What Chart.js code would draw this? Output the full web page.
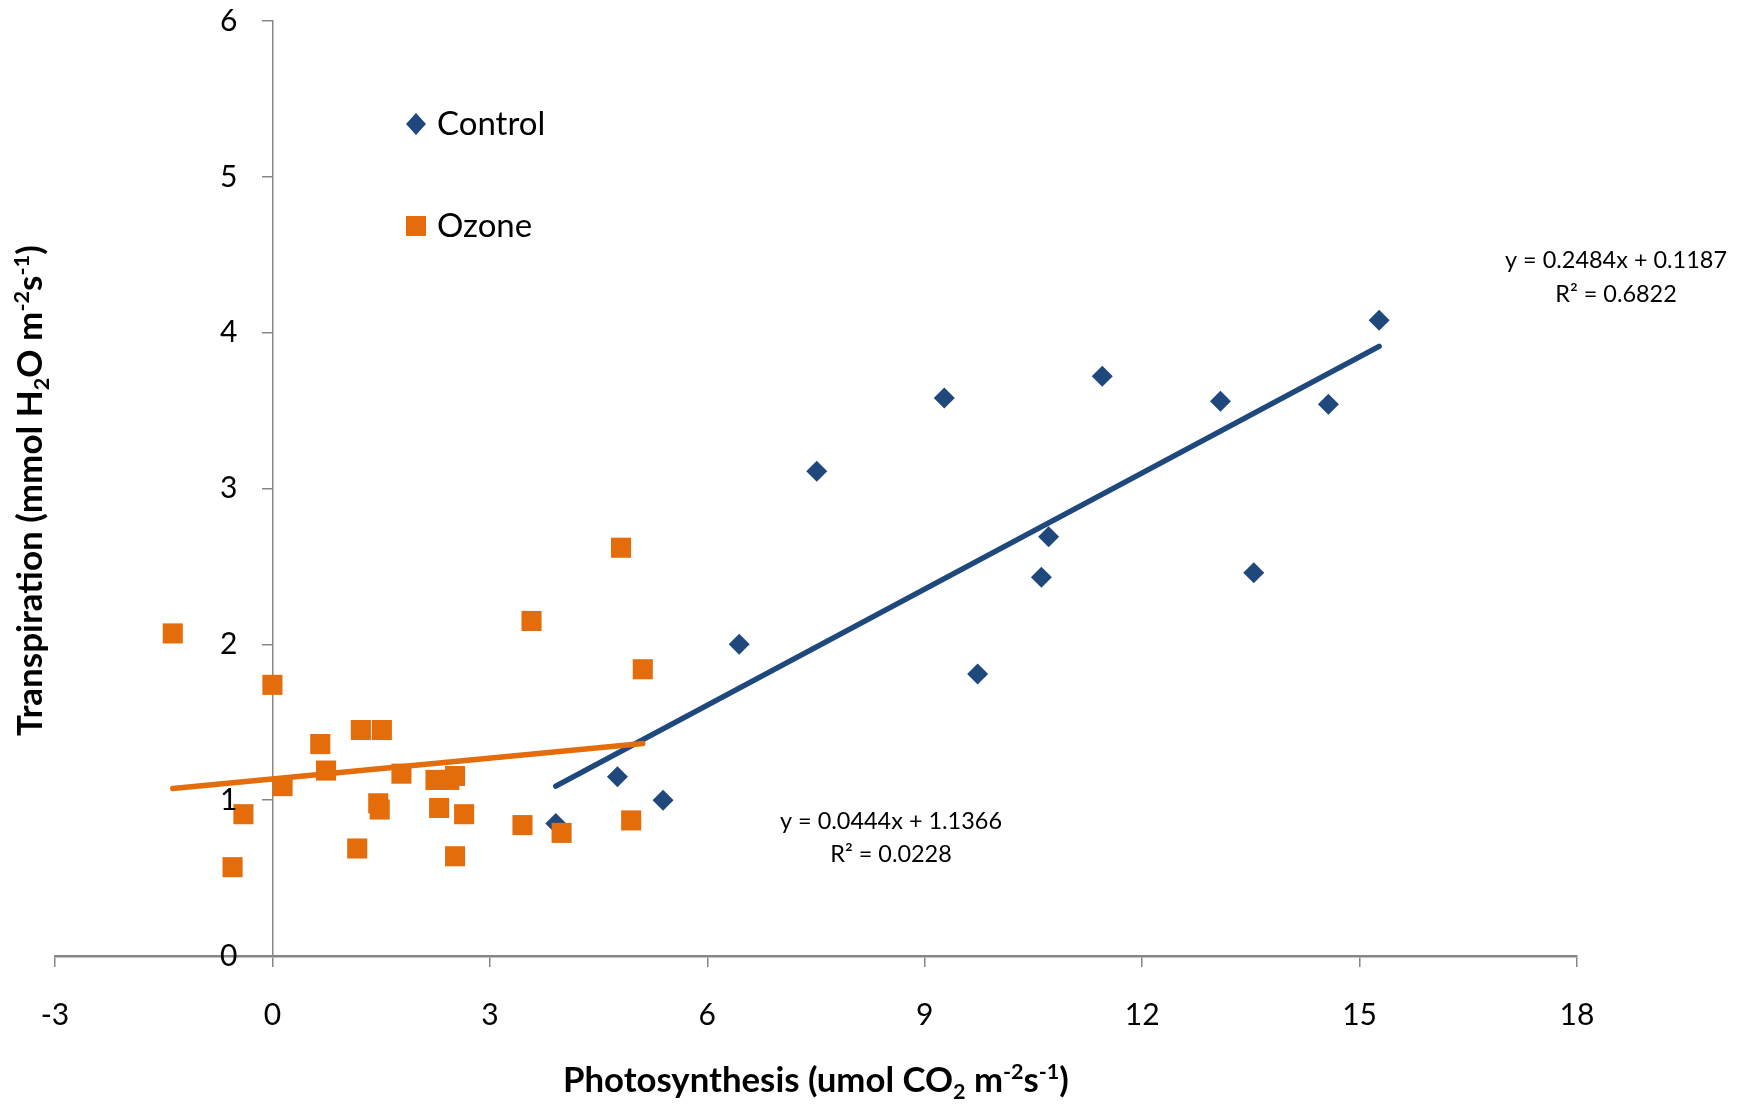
<!DOCTYPE html>
<html lang="en">
<head>
<meta charset="UTF-8">
<title>Transpiration vs Photosynthesis</title>
<script src="https://cdn.jsdelivr.net/npm/chart.js@4.4.1/dist/chart.umd.min.js"></script>
<style>
  html, body { margin: 0; padding: 0; background: #fff; }
</style>
</head>
<body>
<canvas id="scatter" width="1748" height="1110"></canvas>
<script>
// data
const seriesNames = ['Control', 'Ozone'];
const controlX = [3.91, 4.76, 5.39, 6.44, 7.51, 9.27, 9.73, 10.61, 10.71, 11.45, 13.08, 13.54, 14.57, 15.27];
const controlY = [0.85, 1.15, 1.00, 2.00, 3.11, 3.58, 1.81, 2.43, 2.69, 3.72, 3.56, 2.46, 3.54, 4.08];
const ozoneX = [-1.375, 0.0, -0.55, -0.40, 0.14, 0.66, 0.74, 1.22, 1.51, 1.17, 1.46, 1.48, 1.78,
                2.25, 2.44, 2.52, 2.30, 2.645, 2.52, 3.45, 3.575, 3.99, 4.81, 4.95, 5.11];
const ozoneY = [2.07, 1.74, 0.57, 0.91, 1.09, 1.36, 1.19, 1.45, 1.45, 0.69, 0.98, 0.94, 1.17,
                1.13, 1.13, 1.155, 0.95, 0.91, 0.64, 0.84, 2.15, 0.79, 2.62, 0.87, 1.84];
// linear trendlines as printed on the chart: [slope, intercept]
const controlFit = [0.2484, 0.1187];
const ozoneFit = [0.0444, 1.1366];
const controlFitText = ['y = 0.2484x + 0.1187', 'R² = 0.6822'];
const ozoneFitText = ['y = 0.0444x + 1.1366', 'R² = 0.0228'];
const xTicks = [-3, 0, 3, 6, 9, 12, 15, 18];
const yTicks = [0, 1, 2, 3, 4, 5, 6];
// axis titles split into [text, 0 normal | -1 subscript | 1 superscript]
const xTitle = [['Photosynthesis (umol CO', 0], ['2', -1], [' m', 0], ['-2', 1], ['s', 0], ['-1', 1], [')', 0]];
const yTitle = [['Transpiration (mmol H', 0], ['2', -1], ['O m', 0], ['-2', 1], ['s', 0], ['-1', 1], [')', 0]];

const BLUE = '#1F497D';
const ORANGE = '#E46C0A';
const AXIS = '#868686';
const FONT = 'Lato';

function pts(xs, ys) {
    return xs.map((x, i) => ({ x: x, y: ys[i] }));
}

function trend(xs, fit) {
    const lo = Math.min(...xs), hi = Math.max(...xs);
    return [{ x: lo, y: fit[0] * lo + fit[1] }, { x: hi, y: fit[0] * hi + fit[1] }];
}

// text with sub/superscripts, scaled so it spans the given width
function drawRich(ctx, parts, cx, baseY, width, rot) {
    const small = 0.62;
    const measure = size => parts.reduce((w, p) => {
        ctx.font = 'bold ' + (p[1] ? size * small : size) + 'px ' + FONT;
        return w + ctx.measureText(p[0]).width;
    }, 0);
    const size = 30 * width / measure(30);
    ctx.save();
    ctx.translate(cx, baseY);
    ctx.rotate(rot);
    ctx.fillStyle = '#000';
    ctx.textAlign = 'left';
    ctx.textBaseline = 'alphabetic';
    let x = -width / 2;
    parts.forEach(p => {
        ctx.font = 'bold ' + (p[1] ? size * small : size) + 'px ' + FONT;
        const dy = p[1] === 1 ? -size * 0.36 : (p[1] === -1 ? size * 0.2 : 0);
        ctx.fillText(p[0], x, dy);
        x += ctx.measureText(p[0]).width;
    });
    ctx.restore();
}

function drawFitText(ctx, lines, cx, base1, base2, width) {
    ctx.font = '30px ' + FONT;
    const size = 30 * width / ctx.measureText(lines[0]).width;
    ctx.font = size + 'px ' + FONT;
    ctx.fillStyle = '#000';
    ctx.textAlign = 'center';
    ctx.textBaseline = 'alphabetic';
    ctx.fillText(lines[0], cx, base1);
    ctx.fillText(lines[1], cx, base2);
}

const extras = {
    id: 'extras',
    afterDraw(chart) {
        const ctx = chart.ctx;
        const xs = chart.scales.x, ys = chart.scales.y;
        ctx.save();

        // y tick labels, left of the axis that crosses at x = 0
        const axisX = xs.getPixelForValue(0);
        ctx.fillStyle = '#000';
        ctx.font = '30px ' + FONT;
        ctx.textAlign = 'right';
        ctx.textBaseline = 'middle';
        ys.ticks.forEach(t => {
            ctx.fillText(String(t.value), axisX - 35, ys.getPixelForValue(t.value));
        });

        // axis titles
        drawRich(ctx, xTitle, (chart.chartArea.left + chart.chartArea.right) / 2, 1092, 506, 0);
        drawRich(ctx, yTitle, 42, (chart.chartArea.top + chart.chartArea.bottom) / 2 + 2, 491, -Math.PI / 2);

        // legend
        ctx.fillStyle = BLUE;
        ctx.beginPath();
        ctx.moveTo(416, 113); ctx.lineTo(426, 124); ctx.lineTo(416, 135); ctx.lineTo(406, 124);
        ctx.closePath();
        ctx.fill();
        ctx.fillStyle = ORANGE;
        ctx.fillRect(406, 216, 20, 20);
        ctx.fillStyle = '#000';
        ctx.font = '33px ' + FONT;
        ctx.textAlign = 'left';
        ctx.textBaseline = 'alphabetic';
        ctx.fillText(seriesNames[0], 437, 135);
        ctx.fillText(seriesNames[1], 437, 237);

        // trendline equations
        drawFitText(ctx, controlFitText, 1616, 268, 302, 222);
        drawFitText(ctx, ozoneFitText, 891, 829, 862, 222);
        ctx.restore();
    }
};

const whiteBg = {
    id: 'whiteBg',
    beforeDraw(chart) {
        const ctx = chart.ctx;
        ctx.save();
        ctx.fillStyle = '#fff';
        ctx.fillRect(0, 0, chart.width, chart.height);
        ctx.restore();
    }
};

new Chart(document.getElementById('scatter'), {
    type: 'scatter',
    data: {
        datasets: [
            {
                type: 'line',
                label: seriesNames[0] + ' trend',
                data: trend(controlX, controlFit),
                borderColor: BLUE,
                borderWidth: 5.5,
                borderCapStyle: 'round',
                pointRadius: 0,
                fill: false,
                order: 4
            },
            {
                type: 'line',
                label: seriesNames[1] + ' trend',
                data: trend(ozoneX, ozoneFit),
                borderColor: ORANGE,
                borderWidth: 5.5,
                borderCapStyle: 'round',
                pointRadius: 0,
                fill: false,
                order: 3
            },
            {
                label: seriesNames[0],
                data: pts(controlX, controlY),
                pointStyle: 'rectRot',
                pointRadius: 10.5,
                backgroundColor: BLUE,
                borderColor: BLUE,
                borderWidth: 0,
                order: 2
            },
            {
                label: seriesNames[1],
                data: pts(ozoneX, ozoneY),
                pointStyle: 'rect',
                pointRadius: 14.2,
                backgroundColor: ORANGE,
                borderColor: ORANGE,
                borderWidth: 0,
                order: 1
            }
        ]
    },
    options: {
        responsive: false,
        animation: false,
        layout: { padding: { left: 55, right: 171, top: 21, bottom: 0 } },
        plugins: {
            legend: { display: false },
            tooltip: { enabled: false }
        },
        scales: {
            x: {
                type: 'linear',
                position: 'bottom',
                min: -3,
                max: 18,
                afterBuildTicks: s => { s.ticks = xTicks.map(v => ({ value: v })); },
                afterFit: s => { s.height = 154; },
                grid: { drawOnChartArea: false, drawTicks: true, tickLength: 11, color: AXIS, lineWidth: 1.5 },
                border: { color: AXIS, width: 2.5 },
                ticks: { color: '#000', font: { family: FONT, size: 30 }, padding: 30, maxRotation: 0 }
            },
            y: {
                type: 'linear',
                position: { x: 0 },
                min: 0,
                max: 6,
                afterBuildTicks: s => { s.ticks = yTicks.map(v => ({ value: v })); },
                grid: { drawOnChartArea: false, drawTicks: true, tickLength: 10, color: AXIS, lineWidth: 1.5 },
                border: { color: AXIS, width: 1.5 },
                ticks: { display: false }
            }
        }
    },
    plugins: [whiteBg, extras]
});
</script>
</body>
</html>
